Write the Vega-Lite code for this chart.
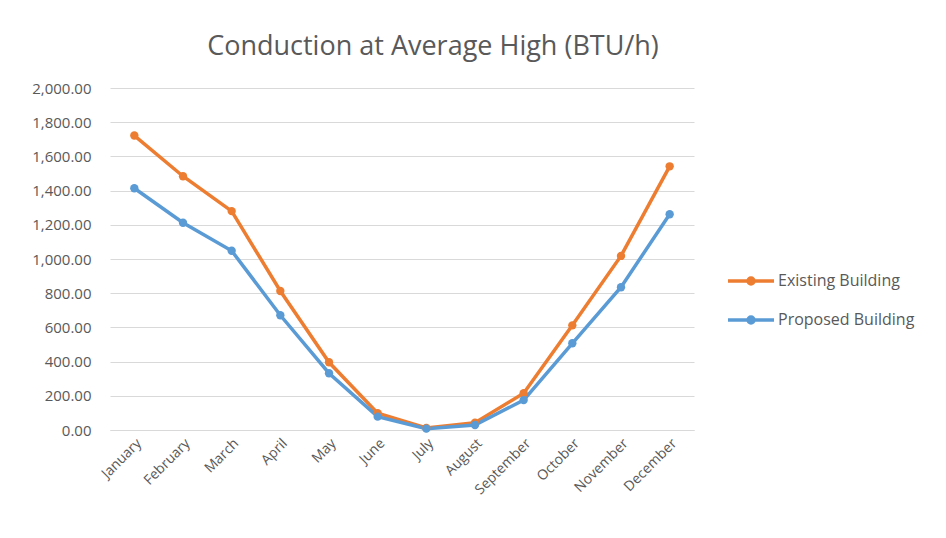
{
  "$schema": "https://vega.github.io/schema/vega-lite/v6.json",
  "autosize": "none",
  "width": 584,
  "height": 342,
  "padding": {"left": 110, "top": 88, "right": 252, "bottom": 108},
  "background": "white",
  "title": {
    "text": "Conduction at Average High (BTU/h)",
    "font": "Open Sans",
    "fontSize": 27,
    "fontWeight": "normal",
    "color": "#595959",
    "anchor": "middle",
    "dx": 31,
    "offset": 20
  },
  "data": {
    "values": [
      {"month": "January", "series": "Existing Building", "value": 1722},
      {"month": "February", "series": "Existing Building", "value": 1484},
      {"month": "March", "series": "Existing Building", "value": 1280},
      {"month": "April", "series": "Existing Building", "value": 813},
      {"month": "May", "series": "Existing Building", "value": 396},
      {"month": "June", "series": "Existing Building", "value": 98},
      {"month": "July", "series": "Existing Building", "value": 12},
      {"month": "August", "series": "Existing Building", "value": 43},
      {"month": "September", "series": "Existing Building", "value": 215},
      {"month": "October", "series": "Existing Building", "value": 612},
      {"month": "November", "series": "Existing Building", "value": 1018},
      {"month": "December", "series": "Existing Building", "value": 1542},
      {"month": "January", "series": "Proposed Building", "value": 1414},
      {"month": "February", "series": "Proposed Building", "value": 1212},
      {"month": "March", "series": "Proposed Building", "value": 1048},
      {"month": "April", "series": "Proposed Building", "value": 671},
      {"month": "May", "series": "Proposed Building", "value": 332},
      {"month": "June", "series": "Proposed Building", "value": 78},
      {"month": "July", "series": "Proposed Building", "value": 8},
      {"month": "August", "series": "Proposed Building", "value": 29},
      {"month": "September", "series": "Proposed Building", "value": 175},
      {"month": "October", "series": "Proposed Building", "value": 507},
      {"month": "November", "series": "Proposed Building", "value": 835},
      {"month": "December", "series": "Proposed Building", "value": 1262}
    ]
  },
  "mark": {"type": "line", "strokeWidth": 3.5, "point": {"size": 70, "filled": true}},
  "encoding": {
    "x": {
      "field": "month",
      "type": "ordinal",
      "sort": null,
      "scale": {"type": "band", "paddingInner": 0, "paddingOuter": 0},
      "axis": {
        "title": null,
        "labelAngle": -45,
        "labelFont": "Open Sans",
        "labelFontSize": 14,
        "labelColor": "#595959",
        "ticks": false,
        "domainColor": "#D9D9D9",
        "labelPadding": 6
      }
    },
    "y": {
      "field": "value",
      "type": "quantitative",
      "scale": {"domain": [0, 2000]},
      "axis": {
        "title": null,
        "format": ",.2f",
        "values": [0, 200, 400, 600, 800, 1000, 1200, 1400, 1600, 1800, 2000],
        "labelFont": "Open Sans",
        "labelFontSize": 15,
        "labelColor": "#595959",
        "domain": false,
        "ticks": false,
        "gridColor": "#D9D9D9",
        "labelPadding": 19
      }
    },
    "color": {
      "field": "series",
      "type": "nominal",
      "scale": {"domain": ["Existing Building", "Proposed Building"], "range": ["#ED7D31", "#5B9BD5"]},
      "legend": {
        "title": null,
        "orient": "none",
        "legendX": 616,
        "legendY": 168,
        "symbolType": "M-1,0H1M-0.13,0A0.13,0.13,0,1,0,0.13,0A0.13,0.13,0,1,0,-0.13,0",
        "symbolSize": 2116,
        "symbolStrokeWidth": 3.5,
        "labelFont": "Open Sans",
        "labelFontSize": 16,
        "labelColor": "#595959",
        "labelOffset": 2,
        "rowPadding": 4
      }
    }
  },
  "config": {"view": {"stroke": null}}
}
